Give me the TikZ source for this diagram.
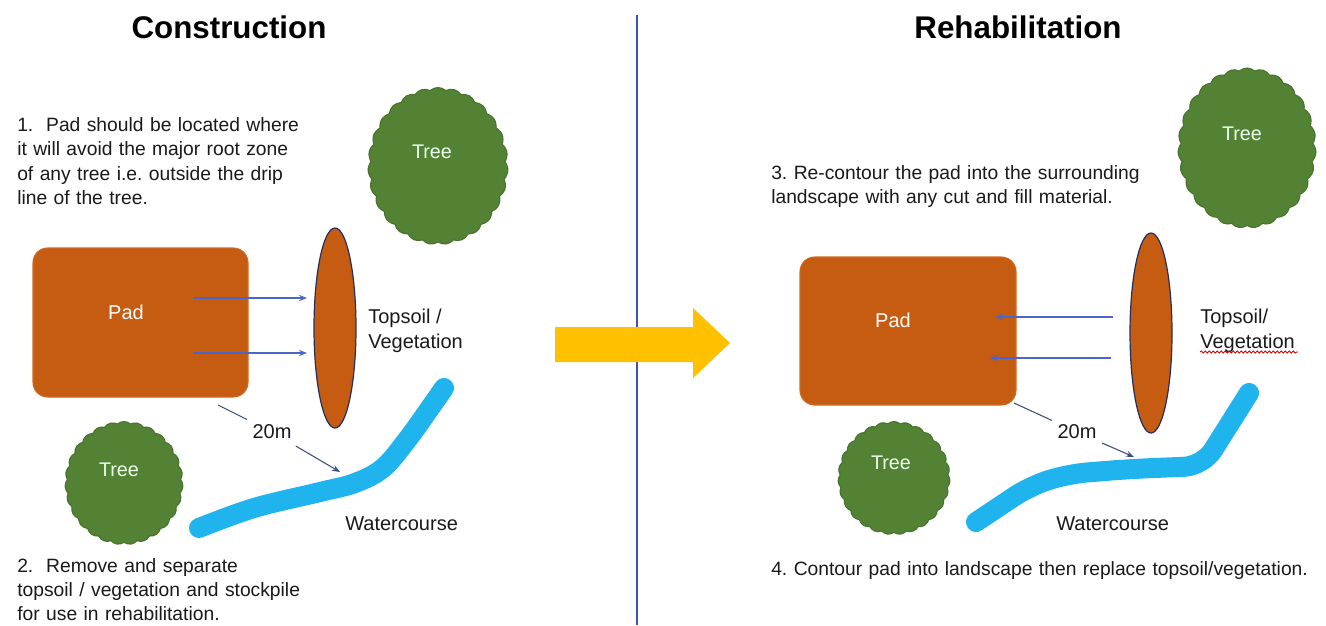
\documentclass[tikz,border=0pt]{standalone}
\usepackage{fontspec}
\setmainfont{Liberation Sans}
\frenchspacing
\usetikzlibrary{shapes.geometric,shapes.symbols,arrows.meta,decorations.pathmorphing}

\definecolor{padfill}{HTML}{C65B12}
\definecolor{padedge}{HTML}{D06A22}
\definecolor{treefill}{HTML}{548235}
\definecolor{treeedge}{HTML}{46722B}
\definecolor{water}{HTML}{1FB4EE}
\definecolor{linkblue}{HTML}{4A66C8}
\definecolor{divider}{HTML}{3F51B5}
\definecolor{bigarrow}{HTML}{FFC000}
\definecolor{distcol}{HTML}{3F4E80}
\definecolor{ink}{HTML}{1A1A1A}
\definecolor{ovaledge}{HTML}{23305F}

\tikzset{
  title/.style={font=\fontsize{23.5}{28}\selectfont\bfseries, text=black, inner sep=0pt, anchor=base},
  body/.style={font=\fontsize{14.45}{18.4}\selectfont, text=ink, inner sep=0pt,
               anchor=base west, text width=#1, align=left},
  lbl/.style={font=\fontsize{15}{18.5}\selectfont, text=ink, inner sep=0pt, anchor=base west},
  padbox/.style={rectangle, rounded corners=11pt, fill=padfill, draw=padedge, line width=0.8pt,
                 minimum width=#1, minimum height=111pt, inner sep=0pt},
  padtext/.style={font=\fontsize{15}{18}\selectfont, text=white, inner sep=0pt},
  stockpile/.style={ellipse, fill=padfill, draw=ovaledge, line width=0.9pt,
                    minimum width=31.5pt, minimum height=150pt, inner sep=0pt},
  treeshape/.style={cloud, cloud puffs=27, cloud puff arc=85, cloud ignores aspect,
                    fill=treefill, draw=treeedge, line width=0.8pt, inner sep=0pt},
  treetext/.style={font=\fontsize{14.8}{18}\selectfont, text=white!92!green, inner sep=0pt},
  link/.style={draw=linkblue, line width=0.8pt, -{Stealth[length=6pt,width=4.6pt]}},
  distline/.style={draw=distcol, line width=0.8pt},
  distlbl/.style={font=\fontsize{15}{18}\selectfont, text=ink, inner xsep=4pt, inner ysep=5pt},
  stream/.style={draw=water, line width=15pt, line cap=round, line join=round}
}

\begin{document}
\begin{tikzpicture}[x=0.75pt,y=-0.75pt]
\useasboundingbox (0,0) rectangle (1326,625);
\fill[white] (0,0) rectangle (1326,625);

% divider between the two panels
\coordinate (divtop) at (637,15);
\coordinate (divbot) at (637,625);
\draw[divider, line width=0.9pt] (divtop) -- (divbot);

% transition arrow
\fill[bigarrow] (555,327) -- (693,327) -- (693,308) -- (730,343) -- (693,378)
  -- (693,362) -- (555,362) -- cycle;

% ---------------- Construction ----------------
\node[title] (titleA) at (229,38) {Construction};

\node[body=230pt] (noteA) at (17,131) {1.\ \ Pad should be located where\\
it will avoid the major root zone\\
of any tree i.e. outside the drip\\
line of the tree.};

\node[treeshape, minimum width=105pt, minimum height=117.75pt] (treeA) at (438,166) {};
\node[treetext] (treeAtxt) at (432,152) {Tree};

\node[padbox=161.25pt, minimum height=111.75pt] (padA) at (140.5,322.5) {};
\node[padtext] (padAtxt) at (126,312) {Pad};

\node[stockpile] (soilA) at (335,328) {};
\node[lbl] (soilAtxt) at (368,323) {Topsoil /};
\node[lbl] (vegAtxt) at (368,348) {Vegetation};

\coordinate (a1s) at (193,298);
\coordinate (a1e) at (307,298);
\coordinate (a2s) at (193,353);
\coordinate (a2e) at (307,353);
\draw[link] (a1s) -- (a1e);
\draw[link] (a2s) -- (a2e);

\draw[stream] plot[smooth, tension=0.6] coordinates
  {(199,528) (254,508) (320,492) (355,483) (383,468) (407,440) (430,408) (444,388)};

\node[treeshape, minimum width=88.5pt, minimum height=92.25pt] (treeB) at (124,483) {};
\node[treetext] (treeBtxt) at (119,470) {Tree};

\node[distlbl] (distA) at (272,432) {20m};
\coordinate (dAs) at (218,405);
\coordinate (dAe) at (340,472);
\draw[distline] (dAs) -- (distA);
\draw[distline, -{Stealth[length=6pt,width=4.6pt]}] (distA) -- (dAe);

\node[lbl] (waterA) at (345,530) {Watercourse};

\node[body=260pt, font=\fontsize{14.45}{18}\selectfont] (noteB) at (17,572) {2.\ \ Remove and separate\\
topsoil / vegetation and stockpile\\
for use in rehabilitation.};

% ---------------- Rehabilitation ----------------
\node[title] (titleB) at (1018,38) {Rehabilitation};

\node[treeshape, minimum width=103.5pt, minimum height=120pt] (treeC) at (1247,148) {};
\node[treetext] (treeCtxt) at (1242,134) {Tree};

\node[body=300pt] (noteC) at (771,179) {3. Re-contour the pad into the surrounding\\
landscape with any cut and fill material.};

\node[padbox=162pt] (padB) at (908,331) {};
\node[padtext] (padBtxt) at (893,320) {Pad};

\node[stockpile] (soilB) at (1151,333) {};
\node[lbl] (soilBtxt) at (1200,323) {Topsoil/};
\node[lbl] (vegBtxt) at (1200,348) {Vegetation};
\coordinate (wavyS) at (1200,352);
\coordinate (wavyE) at (1298,352);
\draw[red!85!black, line width=0.6pt,
      decorate, decoration={snake, segment length=3pt, amplitude=0.8pt}] (wavyS) -- (wavyE);

\coordinate (b1s) at (1113,317);
\coordinate (b1e) at (995,317);
\coordinate (b2s) at (1111,358);
\coordinate (b2e) at (990,358);
\draw[link] (b1s) -- (b1e);
\draw[link] (b2s) -- (b2e);

\draw[stream, rounded corners=14pt] (976,522) -- (1030,486) -- (1068,474) -- (1130,469)
  -- (1203,466) -- (1249,393);

\node[treeshape, minimum width=84pt, minimum height=84.75pt] (treeD) at (894,478) {};
\node[treetext] (treeDtxt) at (891,463) {Tree};

\node[distlbl] (distB) at (1077,432) {20m};
\coordinate (dBs) at (1014,403);
\coordinate (dBe) at (1134,457);
\draw[distline] (dBs) -- (distB);
\draw[distline, -{Stealth[length=6pt,width=4.6pt]}] (distB) -- (dBe);

\node[lbl] (waterB) at (1056,530) {Watercourse};

\node[body=420pt] (noteD) at (771,575) {4. Contour pad into landscape then replace topsoil/vegetation.};
\end{tikzpicture}
\end{document}
